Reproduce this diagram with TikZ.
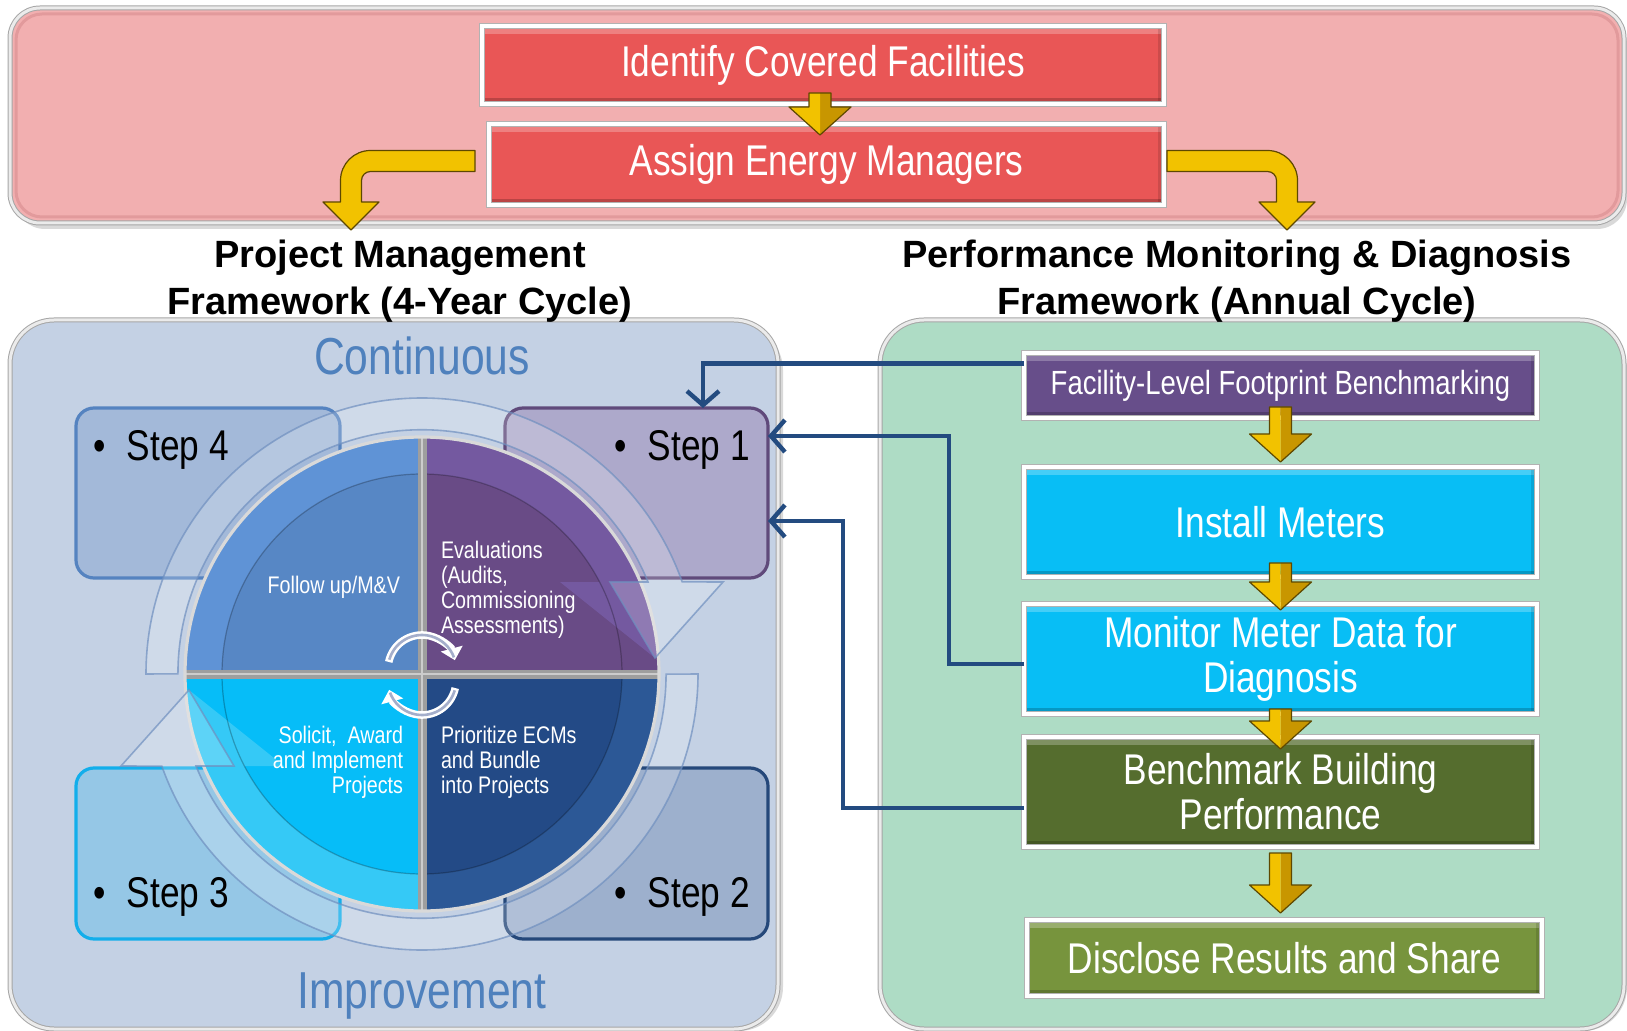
\documentclass[tikz,border=0pt]{standalone}
\usepackage{fontspec}
\setmainfont{Liberation Sans}
\newfontfamily\narrowfont[FakeStretch=0.82]{Liberation Sans}
\usetikzlibrary{arrows.meta,calc}

\definecolor{pinkbg}{HTML}{F2AFB0}
\definecolor{pinkrim}{HTML}{E29A9C}
\definecolor{redfill}{HTML}{E95656}
\definecolor{leftbg}{HTML}{C4D1E4}
\definecolor{rightbg}{HTML}{AEDCC5}
\definecolor{titleblue}{HTML}{4F81BD}
\definecolor{navy}{HTML}{234B80}
\definecolor{goldA}{HTML}{F2C200}
\definecolor{goldB}{HTML}{C89600}
\definecolor{goldE}{HTML}{5E4800}
\definecolor{facpurple}{HTML}{674E8A}
\definecolor{cyanbox}{HTML}{08BEF5}
\definecolor{olivebox}{HTML}{556D2E}
\definecolor{lolivebox}{HTML}{77943D}
\definecolor{tlbase}{HTML}{5787C5}
\definecolor{tlrim}{HTML}{5F93D6}
\definecolor{trbase}{HTML}{694B86}
\definecolor{trrim}{HTML}{7459A0}
\definecolor{blbase}{HTML}{06BDF8}
\definecolor{blrim}{HTML}{35C9F6}
\definecolor{brbase}{HTML}{234A86}
\definecolor{brrim}{HTML}{2C5896}
\definecolor{sfourfill}{HTML}{A3B9D9}
\definecolor{sfourline}{HTML}{5583C0}
\definecolor{sonefill}{HTML}{ADA9CB}
\definecolor{soneline}{HTML}{604A7B}
\definecolor{sthreefill}{HTML}{95C7E6}
\definecolor{sthreeline}{HTML}{12AEEB}
\definecolor{stwofill}{HTML}{9DB0CD}
\definecolor{stwoline}{HTML}{25487A}
\definecolor{ringline}{HTML}{6F8FBF}
\definecolor{cycgray}{HTML}{A4AECB}

\newcommand\goldv[2]{%
 \fill[goldB] let \p1=#1, \p2=#2 in (\x1,\y1) -- (\x1+5.5pt,\y1) -- (\x1+5.5pt,\y2+14pt) -- (\x1+15.5pt,\y2+14pt) -- (\x1,\y2) -- cycle;
 \fill[goldA] let \p1=#1, \p2=#2 in (\x1,\y1) -- (\x1-5.5pt,\y1) -- (\x1-5.5pt,\y2+14pt) -- (\x1-15.5pt,\y2+14pt) -- (\x1,\y2) -- cycle;
 \draw[goldE, line width=0.6pt, line join=round] let \p1=#1, \p2=#2 in (\x1-5.5pt,\y1) -- (\x1-5.5pt,\y2+14pt) -- (\x1-15.5pt,\y2+14pt) -- (\x1,\y2) -- (\x1+15.5pt,\y2+14pt) -- (\x1+5.5pt,\y2+14pt) -- (\x1+5.5pt,\y1) -- cycle;
}

\tikzset{
 bigtxt/.style={font=\narrowfont\fontsize{21.5pt}{22.5pt}\selectfont, text=white},
 boxframe/.style={draw=black!30, double=white, double distance=2pt, line width=0.5pt},
 bevelfx/.style={path picture={
   \fill[white,opacity=0.25] (path picture bounding box.north west) rectangle ([yshift=-4pt]path picture bounding box.north east);
   \fill[black,opacity=0.2] (path picture bounding box.south west) rectangle ([yshift=3pt]path picture bounding box.south east);
   \fill[black,opacity=0.12] (path picture bounding box.north east) rectangle ([xshift=-3pt]path picture bounding box.south east);
 }},
 redbox/.style={boxframe, bevelfx, fill=redfill, bigtxt, minimum width=341pt, minimum height=39pt},
 flowbox/.style={boxframe, bevelfx, bigtxt, minimum width=256.5pt, minimum height=55pt, align=center},
 panel/.style={draw=black!35, double=white!92!black, double distance=1.5pt, line width=0.5pt, rounded corners=22pt},
 stepbox/.style={rounded corners=9pt, line width=1.6pt, minimum width=132pt, minimum height=85pt},
 steptxt/.style={font=\narrowfont\fontsize{21.5pt}{24pt}\selectfont, anchor=base west},
 headtxt/.style={font=\bfseries\fontsize{19pt}{23pt}\selectfont, anchor=base},
 cyctxt/.style={font=\narrowfont\fontsize{26pt}{30pt}\selectfont, text=titleblue, anchor=base},
 secttxt/.style={font=\narrowfont\fontsize{12pt}{12.5pt}\selectfont, text=white},
 conn/.style={draw=navy, line width=2.2pt, line join=miter, -{Straight Barb[length=7pt,width=16pt]}},
 ringfx/.style={fill=white, fill opacity=0.2, draw=ringline, draw opacity=0.7, line width=0.8pt},
 goldarr/.style={fill=goldA, draw=goldE, line width=0.6pt, line join=round},
}

\begin{document}
\begin{tikzpicture}[x=0.5pt,y=-0.5pt, every node/.style={inner sep=0pt, outer sep=0pt}]
\useasboundingbox (0,0) rectangle (1627,1031);

% shadows
\fill[black,opacity=0.15,rounded corners=15pt] (15,15) rectangle (1627,229);
\fill[black,opacity=0.15,rounded corners=22pt] (15,326) rectangle (783,1031);
\fill[black,opacity=0.15,rounded corners=22pt] (885,326) rectangle (1627,1031);

% panels
\node[panel, fill=pinkbg, rounded corners=15pt, minimum width=807pt, minimum height=107.5pt] (toppanel) at (817,115.5) {};
\draw[pinkrim, line width=1.5pt, rounded corners=13pt] ([xshift=3pt,yshift=-3pt]toppanel.north west) rectangle ([xshift=-3pt,yshift=3pt]toppanel.south east);
\node[panel, fill=leftbg, minimum width=384pt, minimum height=354.5pt] (leftpanel) at (394,674.5) {};
\node[panel, fill=rightbg, minimum width=372pt, minimum height=354.5pt] (rightpanel) at (1252,674.5) {};

% top boxes
\node[redbox] (id) at (823,65) {Identify Covered Facilities};
\node[redbox, minimum width=337.5pt, minimum height=40.5pt] (am) at (826.5,164.5) {Assign Energy Managers};
\goldv{([xshift=-1.5pt,yshift=5.5pt]id.south)}{([xshift=-1.5pt,yshift=-5.5pt]am.north)}

% bent gold arrows
\coordinate (ltip) at (351,230);
\coordinate (rtip) at (1287,230);
\path[goldarr] ([xshift=-7pt,yshift=7pt]am.west) -- ++(-104.5,0)
  arc[start angle=-90,end angle=-180,radius=30] -- ++(0,21.5) -- ++(-17.5,0) -- (ltip)
  -- ++(28,-28) -- ++(-17.5,0) -- ++(0,-21.5) arc[start angle=-180,end angle=-90,radius=9] -- ++(104.5,0) -- cycle;
\path[goldarr] ([xshift=1.5pt,yshift=7pt]am.east) -- ++(100.5,0)
  arc[start angle=-90,end angle=0,radius=30] -- ++(0,21.5) -- ++(17.5,0) -- (rtip)
  -- ++(-28,-28) -- ++(17.5,0) -- ++(0,-21.5) arc[start angle=0,end angle=-90,radius=9] -- ++(-100.5,0) -- cycle;

% headings
\node[headtxt] (h1a) at (400,267.5) {Project Management};
\node[headtxt] (h1b) at (400,314.5) {Framework (4-Year Cycle)};
\node[headtxt] (h2a) at (1237,267.5) {Performance Monitoring \& Diagnosis};
\node[headtxt] (h2b) at (1237,314.5) {Framework (Annual Cycle)};

% right flow
\node[flowbox, fill=facpurple, minimum height=32.5pt, font=\narrowfont\fontsize{16.75pt}{20pt}\selectfont] (fac) at (1280.5,385.5) {Facility-Level Footprint Benchmarking};
\node[flowbox, fill=cyanbox] (inst) at (1280.5,522) {Install Meters};
\node[flowbox, fill=cyanbox] (mon) at (1280.5,659) {Monitor Meter Data for\\Diagnosis};
\node[flowbox, fill=olivebox] (bench) at (1280.5,792) {Benchmark Building\\Performance};
\node[flowbox, fill=lolivebox, minimum width=257.5pt, minimum height=38pt] (disc) at (1284.5,958) {Disclose Results and Share};
\goldv{([yshift=5.5pt]fac.south)}{([yshift=2.5pt]inst.north)}
\goldv{([yshift=7pt]inst.south)}{([yshift=-3pt]mon.north)}
\goldv{([yshift=2.5pt]mon.south)}{([yshift=-6pt]bench.north)}
\goldv{([yshift=-3pt]bench.south)}{([xshift=-2pt,yshift=3.5pt]disc.north)}

% left: cycle titles
\node[cyctxt] (cont) at (422,374.5) {Continuous};
\node[cyctxt] (impr) at (422,1008) {Improvement};

% step boxes
\node[stepbox, fill=sfourfill, draw=sfourline] (s4) at (208,493) {};
\node[stepbox, fill=sonefill, draw=soneline, minimum width=131.5pt] (s1) at (636.5,493) {};
\node[stepbox, fill=sthreefill, draw=sthreeline, minimum height=85.5pt] (s3) at (208,853.5) {};
\node[stepbox, fill=stwofill, draw=stwoline, minimum width=131.5pt, minimum height=85.5pt] (s2) at (636.5,853.5) {};

% circle
\begin{scope}[shift={(422,674)}]
 \fill[tlbase] (0,0) -- (180:237) arc[start angle=180,end angle=270,radius=237] -- cycle;
 \fill[trbase] (0,0) -- (270:237) arc[start angle=270,end angle=360,radius=237] -- cycle;
 \fill[brbase] (0,0) -- (0:237) arc[start angle=0,end angle=90,radius=237] -- cycle;
 \fill[blbase] (0,0) -- (90:237) arc[start angle=90,end angle=180,radius=237] -- cycle;
 \fill[tlrim] (180:237) arc[start angle=180,end angle=270,radius=237] -- (270:200) arc[start angle=270,end angle=180,radius=200] -- cycle;
 \fill[brrim] (0:237) arc[start angle=0,end angle=90,radius=237] -- (90:200) arc[start angle=90,end angle=0,radius=200] -- cycle;
 \fill[trrim] (270:237) arc[start angle=270,end angle=356,radius=237] -- (233,-16) -- (138,-92) -- (177.6,-92) arc[start angle=332.6,end angle=270,radius=200] -- cycle;
 \fill[blrim] (90:237) arc[start angle=90,end angle=176,radius=237] -- (-233,16) -- (-138,92) -- (-177.6,92) arc[start angle=152.6,end angle=90,radius=200] -- cycle;
 \draw[black,opacity=0.25,line width=0.6pt] (0,0) circle[radius=200];
 \draw[black!38,line width=4.5pt] (-237,0) -- (237,0) (0,-237) -- (0,237);
 \draw[white!80!black,line width=1.4pt] (-237,0) -- (237,0) (0,-237) -- (0,237);
 \draw[white!85!black,line width=1.6pt] (0,0) circle[radius=237];
 % outer translucent cycle arrows
 \path[ringfx] (-180:276) arc[start angle=-180,end angle=-19.5,radius=276] -- (301,-92) -- (233,-16) -- (188,-92) -- (226,-92) arc[start angle=-22.1,end angle=-180,radius=244] -- cycle;
 \path[ringfx] (0:276) arc[start angle=0,end angle=160.5,radius=276] -- (-301,92) -- (-233,16) -- (-188,92) -- (-226,92) arc[start angle=157.9,end angle=0,radius=244] -- cycle;
 % centre cycle arrows
 \draw[white,line width=3.8pt,-{Triangle[width=11pt,length=6pt]}] (0,-5) ++(192:34) arc[start angle=192,end angle=345,radius=34];
 \draw[cycgray,line width=1.3pt] (0,-5) ++(196:34) arc[start angle=196,end angle=340,radius=34];
 \draw[white,line width=3.8pt,-{Triangle[width=11pt,length=6pt]}] (0,7) ++(12:34) arc[start angle=12,end angle=165,radius=34];
 \draw[cycgray,line width=1.3pt] (0,7) ++(16:34) arc[start angle=16,end angle=160,radius=34];
\end{scope}

% sector texts
\node[secttxt, anchor=east] (q1) at (400,587) {Follow up/M\&V};
\node[secttxt, anchor=north west, align=left] (q2) at (441,541) {Evaluations\\(Audits,\\Commissioning\\Assessments)};
\node[secttxt, anchor=north east, align=right] (q3) at (403,726) {Solicit,~ Award\\and Implement\\Projects};
\node[secttxt, anchor=north west, align=left] (q4) at (441,726) {Prioritize ECMs\\and Bundle\\into Projects};

% step texts
\node[steptxt] (t4) at (93,461) {\makebox[17pt][l]{\textbullet}Step 4};
\node[steptxt] (t1) at (614,461) {\makebox[17pt][l]{\textbullet}Step 1};
\node[steptxt] (t3) at (93,907) {\makebox[17pt][l]{\textbullet}Step 3};
\node[steptxt] (t2) at (614,907) {\makebox[17pt][l]{\textbullet}Step 2};

% connectors
\draw[conn] ([yshift=11pt]fac.west) -| ([xshift=33.25pt]s1.north);
\draw[conn] ([yshift=-2.5pt]mon.west) -- ++(-75,0) |- ([yshift=28.5pt]s1.east);
\draw[conn] ([yshift=-8pt]bench.west) -- ++(-181,0) |- ([yshift=-14pt]s1.east);
\end{tikzpicture}
\end{document}
